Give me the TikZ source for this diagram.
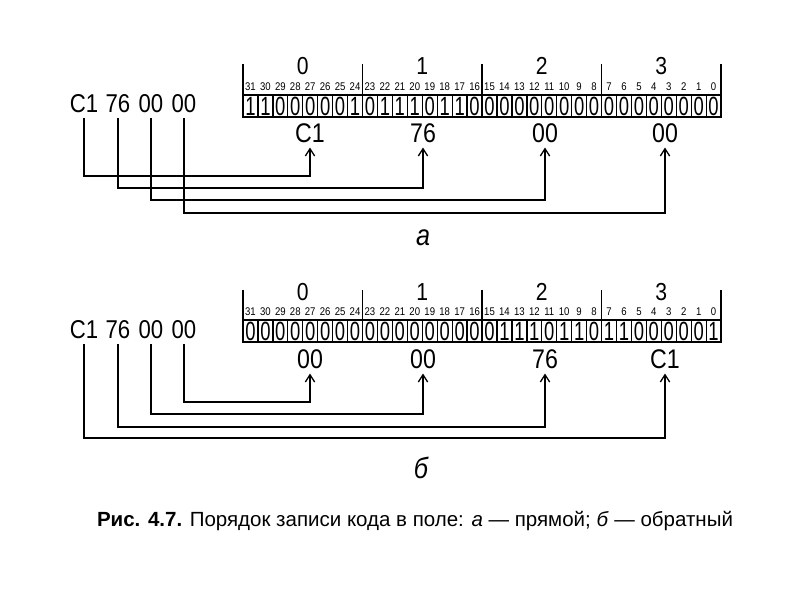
\documentclass[tikz,border=0pt]{standalone}
\usepackage{fontspec}
\setmainfont[FakeStretch=0.86]{Liberation Sans}
\newfontfamily\capfont{Liberation Sans}
\newfontfamily\cellfont[FakeStretch=0.7]{Liberation Sans}
\usetikzlibrary{arrows.meta, calc}

\tikzset{
  bitcell/.style={draw, line width=1.1pt, minimum width=4.48mm, minimum height=6.6mm,
                  inner sep=0pt, font=\cellfont\fontsize{22.5}{22.5}\selectfont},
  bitnum/.style={inner sep=0pt, font=\fontsize{9.5}{9.5}\selectfont},
  bytenum/.style={inner sep=0pt, font=\fontsize{21}{21}\selectfont},
  hexlbl/.style={inner sep=1.3mm, font=\fontsize{23}{23}\selectfont},
  srclbl/.style={inner sep=1.3mm, font=\fontsize{22}{22}\selectfont},
  partlbl/.style={inner sep=0pt, font=\fontsize{25}{25}\selectfont\itshape},
  link/.style={-{Straight Barb[length=2.2mm, width=2.8mm]}, line width=1.1pt},
}

\begin{document}
\begin{tikzpicture}[x=0.3mm, y=-0.3mm, line width=1.1pt]

\useasboundingbox (0,0) rectangle (800,600);

% ---------- a: direct order ----------
% byte frame and byte numbers
\foreach \k in {0,...,4}
  \draw (243+119.5*\k,64) -- (243+119.5*\k,95);
\foreach \k in {0,...,3}
  \node[bytenum] (byteA\k) at (302.75+119.5*\k,66) {\k};

% bit numbers and cells
\foreach \b [count=\i from 0] in {1,1,0,0,0,0,0,1, 0,1,1,1,0,1,1,0,
                                  0,0,0,0,0,0,0,0, 0,0,0,0,0,0,0,0} {
  \pgfmathtruncatemacro\n{31-\i}
  \node[bitnum] at ({243+14.94*(\i+0.5)},87) {\n};
  \node[bitcell] (cellA\i) at ({243+14.94*(\i+0.5)},106) {\b};
}

% code written
\node[srclbl] (srcA1) at (84,104) {C1};
\node[srclbl] (srcA2) at (118,104) {76};
\node[srclbl] (srcA3) at (151,104) {00};
\node[srclbl] (srcA4) at (184,104) {00};

% bytes as stored
\node[hexlbl] (tgtA0) at (310,133) {C1};
\node[hexlbl] (tgtA1) at (423,133) {76};
\node[hexlbl] (tgtA2) at (545,133) {00};
\node[hexlbl] (tgtA3) at (665,133) {00};

\coordinate (lvA1) at (0,176);
\coordinate (lvA2) at (0,188);
\coordinate (lvA3) at (0,200);
\coordinate (lvA4) at (0,213);

\draw[link] (srcA1.south) -- (srcA1.south |- lvA1) -| (tgtA0.south);
\draw[link] (srcA2.south) -- (srcA2.south |- lvA2) -| (tgtA1.south);
\draw[link] (srcA3.south) -- (srcA3.south |- lvA3) -| (tgtA2.south);
\draw[link] (srcA4.south) -- (srcA4.south |- lvA4) -| (tgtA3.south);

\node[partlbl] (partA) at (423,238) {а};

% ---------- b: reverse order ----------
\foreach \k in {0,...,4}
  \draw (243+119.5*\k,290) -- (243+119.5*\k,320);
\foreach \k in {0,...,3}
  \node[bytenum] (byteB\k) at (302.75+119.5*\k,292) {\k};

\foreach \b [count=\i from 0] in {0,0,0,0,0,0,0,0, 0,0,0,0,0,0,0,0,
                                  0,1,1,1,0,1,1,0, 1,1,0,0,0,0,0,1} {
  \pgfmathtruncatemacro\n{31-\i}
  \node[bitnum] at ({243+14.94*(\i+0.5)},312) {\n};
  \node[bitcell] (cellB\i) at ({243+14.94*(\i+0.5)},331) {\b};
}

\node[srclbl] (srcB1) at (84,330) {C1};
\node[srclbl] (srcB2) at (118,330) {76};
\node[srclbl] (srcB3) at (151,330) {00};
\node[srclbl] (srcB4) at (184,330) {00};

\node[hexlbl] (tgtB0) at (310,359) {00};
\node[hexlbl] (tgtB1) at (423,359) {00};
\node[hexlbl] (tgtB2) at (545,359) {76};
\node[hexlbl] (tgtB3) at (665,359) {C1};

\coordinate (lvB1) at (0,438);
\coordinate (lvB2) at (0,427);
\coordinate (lvB3) at (0,414);
\coordinate (lvB4) at (0,402);

\draw[link] (srcB4.south) -- (srcB4.south |- lvB4) -| (tgtB0.south);
\draw[link] (srcB3.south) -- (srcB3.south |- lvB3) -| (tgtB1.south);
\draw[link] (srcB2.south) -- (srcB2.south |- lvB2) -| (tgtB2.south);
\draw[link] (srcB1.south) -- (srcB1.south |- lvB1) -| (tgtB3.south);

\node[partlbl] (partB) at (421,468) {б};

% caption
\node[inner sep=0pt, font=\capfont\fontsize{17.5}{17.5}\selectfont] (caption) at (415,521)
  {\textbf{Рис. 4.7.} Порядок записи кода в поле: \textit{а} — прямой; \textit{б} — обратный};

\end{tikzpicture}
\end{document}
